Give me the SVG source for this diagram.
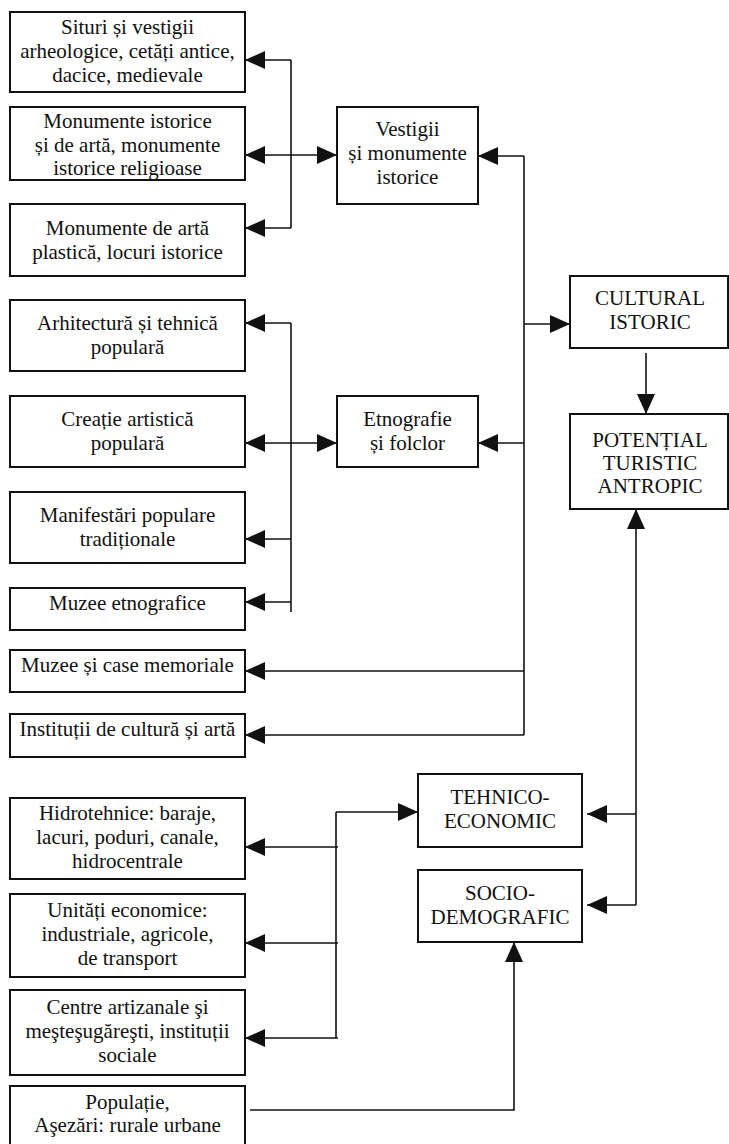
<svg xmlns="http://www.w3.org/2000/svg" width="729" height="1144" viewBox="0 0 729 1144">
  <style>
    .box rect { fill: #ffffff; stroke: #111111; stroke-width: 2; }
    .box text { font-family: "Liberation Serif", "Times New Roman", serif; font-size: 21px; fill: #111111; text-anchor: middle; }
    #connectors path { fill: none; stroke: #111111; stroke-width: 1.6; }
    .a { marker-end: url(#head); }
    .aa { marker-start: url(#head); marker-end: url(#head); }
  </style>
  <defs>
    <marker id="head" markerUnits="userSpaceOnUse" markerWidth="20" markerHeight="18" refX="20" refY="9" orient="auto-start-reverse" viewBox="0 0 20 18">
      <path d="M0,0 L20,9 L0,18 z" fill="#111111"/>
    </marker>
  </defs>
  <rect width="729" height="1144" fill="#ffffff"/>

  <!-- connectors -->
  <g id="connectors">
    <!-- historic remains branch -->
    <path d="M291,60 V228"/>
    <path class="a" d="M291,60 H245"/>
    <path class="a" d="M291,228 H245"/>
    <path class="aa" d="M245,155 H337"/>
    <!-- trunk from the cultural node -->
    <path class="a" d="M524,156 H478"/>
    <path d="M524,156 V735"/>
    <path class="a" d="M524,324 H570"/>
    <path class="a" d="M524,443 H478"/>
    <path class="a" d="M524,671 H245"/>
    <path class="a" d="M524,735 H245"/>
    <!-- ethnography branch -->
    <path d="M291,323 V612"/>
    <path class="a" d="M291,323 H245"/>
    <path class="a" d="M291,539 H245"/>
    <path class="a" d="M291,602 H245"/>
    <path class="aa" d="M245,443 H337"/>
    <!-- to the anthropic potential -->
    <path class="a" d="M646,353 V414"/>
    <path class="a" d="M636,905 V509"/>
    <path class="a" d="M636,814 H587"/>
    <path class="a" d="M636,905 H587"/>
    <!-- technical-economic branch -->
    <path d="M336,812 V1038"/>
    <path class="a" d="M338,847 H245"/>
    <path class="a" d="M338,943 H245"/>
    <path class="a" d="M338,1038 H245"/>
    <path class="a" d="M336,812 H418"/>
    <!-- population to socio-demographic -->
    <path class="a" d="M250,1110 H514 V942"/>
  </g>

  <!-- nodes -->
  <g id="situri" class="box">
    <rect x="10" y="12" width="235" height="80"/>
    <text x="127.5" y="34">Situri și vestigii</text>
    <text x="127.5" y="58">arheologice, cetăți antice,</text>
    <text x="127.5" y="82">dacice, medievale</text>
  </g>
  <g id="monumente-istorice" class="box">
    <rect x="10" y="107" width="235" height="73"/>
    <text x="127.5" y="128">Monumente istorice</text>
    <text x="127.5" y="152">și de artă, monumente</text>
    <text x="127.5" y="175">istorice religioase</text>
  </g>
  <g id="monumente-arta" class="box">
    <rect x="10" y="204" width="235" height="72"/>
    <text x="127.5" y="235">Monumente de artă</text>
    <text x="127.5" y="259">plastică, locuri istorice</text>
  </g>
  <g id="vestigii" class="box">
    <rect x="337" y="107" width="141" height="97"/>
    <text x="407.5" y="136">Vestigii</text>
    <text x="407.5" y="160">și monumente</text>
    <text x="407.5" y="184">istorice</text>
  </g>
  <g id="arhitectura" class="box">
    <rect x="10" y="300" width="235" height="71"/>
    <text x="127.5" y="330">Arhitectură și tehnică</text>
    <text x="127.5" y="354">populară</text>
  </g>
  <g id="creatie" class="box">
    <rect x="10" y="396" width="235" height="71"/>
    <text x="127.5" y="426">Creație artistică</text>
    <text x="127.5" y="450">populară</text>
  </g>
  <g id="etnografie" class="box">
    <rect x="337" y="396" width="141" height="71"/>
    <text x="407.5" y="426">Etnografie</text>
    <text x="407.5" y="450">și folclor</text>
  </g>
  <g id="manifestari" class="box">
    <rect x="10" y="492" width="235" height="71"/>
    <text x="127.5" y="522">Manifestări populare</text>
    <text x="127.5" y="546">tradiționale</text>
  </g>
  <g id="muzee-etnografice" class="box">
    <rect x="10" y="588" width="235" height="42"/>
    <text x="127.5" y="610">Muzee etnografice</text>
  </g>
  <g id="muzee-case" class="box">
    <rect x="10" y="650" width="235" height="42"/>
    <text x="127.5" y="672">Muzee și case memoriale</text>
  </g>
  <g id="institutii" class="box">
    <rect x="10" y="714" width="235" height="43"/>
    <text x="127.5" y="736">Instituții de cultură și artă</text>
  </g>
  <g id="cultural-istoric" class="box">
    <rect x="570" y="276" width="158" height="72"/>
    <text x="650" y="305">CULTURAL</text>
    <text x="650" y="329">ISTORIC</text>
  </g>
  <g id="potential" class="box">
    <rect x="570" y="414" width="158" height="95"/>
    <text x="650" y="447">POTENȚIAL</text>
    <text x="650" y="470">TURISTIC</text>
    <text x="650" y="493">ANTROPIC</text>
  </g>
  <g id="tehnico-economic" class="box">
    <rect x="418" y="774" width="164" height="73"/>
    <text x="500" y="804">TEHNICO-</text>
    <text x="500" y="828">ECONOMIC</text>
  </g>
  <g id="socio-demografic" class="box">
    <rect x="418" y="870" width="164" height="72"/>
    <text x="500" y="900">SOCIO-</text>
    <text x="500" y="924">DEMOGRAFIC</text>
  </g>
  <g id="hidrotehnice" class="box">
    <rect x="10" y="798" width="235" height="81"/>
    <text x="127.5" y="820">Hidrotehnice: baraje,</text>
    <text x="127.5" y="844">lacuri, poduri, canale,</text>
    <text x="127.5" y="868">hidrocentrale</text>
  </g>
  <g id="unitati" class="box">
    <rect x="10" y="894" width="235" height="83"/>
    <text x="127.5" y="917">Unități economice:</text>
    <text x="127.5" y="941">industriale, agricole,</text>
    <text x="127.5" y="965">de transport</text>
  </g>
  <g id="centre" class="box">
    <rect x="10" y="990" width="235" height="85"/>
    <text x="127.5" y="1014">Centre artizanale şi</text>
    <text x="127.5" y="1038">meşteşugăreşti, instituții</text>
    <text x="127.5" y="1062">sociale</text>
  </g>
  <g id="populatie" class="box">
    <rect x="10" y="1086" width="235" height="62"/>
    <text x="127.5" y="1109">Populație,</text>
    <text x="127.5" y="1132">Aşezări: rurale urbane</text>
  </g>
</svg>
